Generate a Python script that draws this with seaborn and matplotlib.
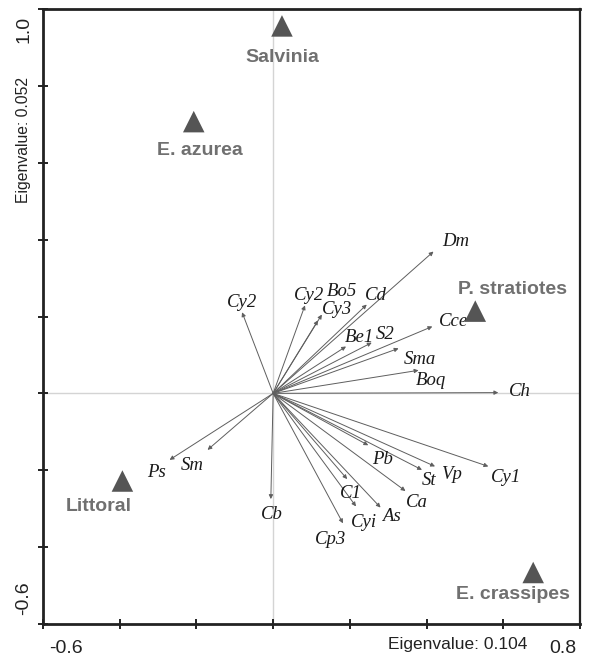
import matplotlib
matplotlib.use("Agg")
import matplotlib.pyplot as plt
import matplotlib.transforms as mtransforms
import numpy as np
import pandas as pd
import seaborn as sns

# Species response vectors (biplot scores on axes 1 and 2)
species = ["Cy2", "Cy2", "Cy3", "Bo5", "Cd", "Dm", "Be1", "S2", "Cce", "Sma", "Boq", "Ch",
           "Cy1", "Vp", "St", "Pb", "Ca", "C1", "Cyi", "As", "Cp3", "Cb", "Ps", "Sm"]
sp_axis1 = [-0.081, 0.083, 0.117, 0.127, 0.244, 0.418, 0.190, 0.257, 0.415, 0.327, 0.379, 0.587,
            0.561, 0.422, 0.388, 0.248, 0.345, 0.193, 0.216, 0.280, 0.182, -0.006, -0.270, -0.171]
sp_axis2 = [0.211, 0.229, 0.190, 0.205, 0.231, 0.369, 0.122, 0.132, 0.174, 0.117, 0.060, 0.002,
            -0.190, -0.190, -0.199, -0.135, -0.254, -0.223, -0.294, -0.297, -0.338, -0.275, -0.173, -0.147]

# Macrophyte habitat centroids
habitats = ["Salvinia", "E. azurea", "P. stratiotes", "Littoral", "E. crassipes"]
hab_axis1 = [0.023, -0.207, 0.527, -0.393, 0.678]
hab_axis2 = [0.956, 0.707, 0.214, -0.228, -0.466]

x_ticks = [-0.6, -0.4, -0.2, 0.0, 0.2, 0.4, 0.6, 0.8]
y_ticks = [-0.6, -0.4, -0.2, 0.0, 0.2, 0.4, 0.6, 0.8, 1.0]
x_label = "Eigenvalue: 0.104"
y_label = "Eigenvalue: 0.052"

# Label placement next to arrow tips (pixels)
sp_offsets = [(0, 10), (4, 10), (19, 11), (20, 23), (9, 9), (22, 10), (13, 9), (13, 8),
              (21, 5), (21, -11), (12, -10), (22, 1), (18, -11), (16, -8), (7, -11),
              (14, -14), (11, -11), (4, -14), (8, -16), (11, -9), (-12, -16), (1, -15),
              (-13, -13), (-15, -16)]
hab_offsets = [(0, -32), (6, -29), (37, 22), (-24, -25), (-20, -22)]

sns.set_theme(style="white")
plt.rcParams["font.family"] = ["Liberation Sans", "DejaVu Sans"]

fig = plt.figure(figsize=(5.89, 6.60), dpi=100)
ax = fig.add_axes([43 / 589, 1 - 624 / 660, 537 / 589, 615 / 660])

ax.set_xlim(-0.6, 0.8)
ax.set_ylim(-0.6, 1.0)

# zero reference lines
ax.axhline(0, color="#d4d4d4", lw=1.0, zorder=0)
ax.axvline(0, color="#d4d4d4", lw=1.0, zorder=0)

# species arrows
for name, x, y, (dx, dy) in zip(species, sp_axis1, sp_axis2, sp_offsets):
    ax.annotate("", xy=(x, y), xytext=(0, 0),
                arrowprops=dict(arrowstyle="-|>", mutation_scale=6, lw=0.7,
                                color="#5e5e5e", shrinkA=0, shrinkB=0), zorder=2)
    ax.annotate(name, xy=(x, y), xytext=(dx, dy), textcoords="offset pixels",
                ha="center", va="center", fontsize=13.5, style="italic",
                family=["Liberation Serif", "DejaVu Serif"], color="#1a1a1a", zorder=3)

# habitat centroids
hab_df = pd.DataFrame({"axis1": hab_axis1, "axis2": hab_axis2, "habitat": habitats})
sns.scatterplot(data=hab_df, x="axis1", y="axis2", marker="^", s=240,
                color="#555555", edgecolor="none", ax=ax, zorder=4, legend=False)
for name, x, y, (dx, dy) in zip(habitats, hab_axis1, hab_axis2, hab_offsets):
    ax.annotate(name, xy=(x, y), xytext=(dx, dy), textcoords="offset pixels",
                ha="center", va="center", fontsize=14, fontweight="bold",
                color="#707070", zorder=4)

# frame and ticks
for side in ["left", "bottom", "top", "right"]:
    ax.spines[side].set_visible(True)
    ax.spines[side].set_color("#222222")
    ax.spines[side].set_linewidth(2.0)
ax.spines["right"].set_linewidth(1.6)

ax.set_xticks(x_ticks)
ax.set_yticks(y_ticks)
ax.set_xticklabels([f"{v:.1f}" if v in (x_ticks[0], x_ticks[-1]) else "" for v in x_ticks])
ax.set_yticklabels([f"{v:.1f}" if v in (y_ticks[0], y_ticks[-1]) else "" for v in y_ticks])
ax.tick_params(axis="both", direction="inout", length=7, width=1.4, color="#222222",
               labelsize=14, labelcolor="#222222", bottom=True, left=True)
ax.tick_params(axis="x", pad=8)
ax.tick_params(axis="y", pad=4, labelrotation=90)

def shift(label, dx, dy):
    label.set_transform(label.get_transform() +
                        mtransforms.ScaledTranslation(dx / 100, dy / 100, fig.dpi_scale_trans))

xl = ax.get_xticklabels()
shift(xl[0], 23, 0)
shift(xl[-1], -17, 0)
yl = ax.get_yticklabels()
for lab in yl:
    lab.set_va("center")
shift(yl[0], 0, 26)
shift(yl[-1], 0, -20)

ax.set_xlabel(x_label, fontsize=12.5, color="#222222", va="center")
ax.xaxis.set_label_coords((458 - 43) / 537, (624 - 645) / 615)
ax.set_ylabel(y_label, fontsize=11.3, color="#222222", va="center")
ax.yaxis.set_label_coords((24 - 43) / 537, (624 - 140) / 615)

fig.savefig("out.png", dpi=100)
